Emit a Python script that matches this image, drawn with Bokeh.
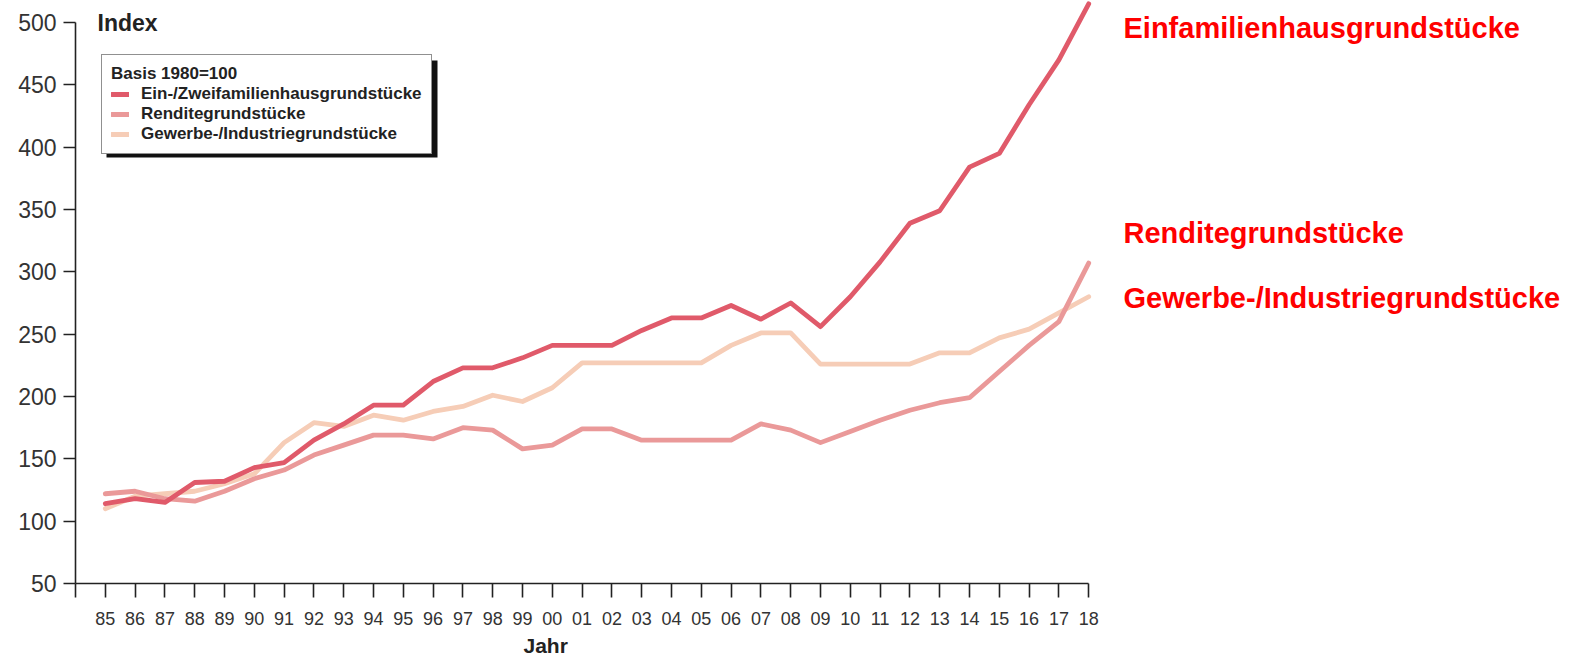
from bokeh.plotting import figure
from bokeh.models import (Range1d, FixedTicker, Legend, LegendItem, Label, BoxAnnotation, Title)
from bokeh.embed import file_html
from bokeh.resources import INLINE

# ---- data ----
years = list(range(1985, 2019))
tick_labels = ["85", "86", "87", "88", "89", "90", "91", "92", "93", "94", "95", "96", "97", "98",
               "99", "00", "01", "02", "03", "04", "05", "06", "07", "08", "09", "10", "11", "12",
               "13", "14", "15", "16", "17", "18"]
efh = [114, 118, 115, 131, 132, 143, 147, 165, 178, 193, 193, 212, 223, 223, 231, 241, 241, 241,
       253, 263, 263, 273, 262, 275, 256, 280, 308, 339, 349, 384, 395, 434, 470, 515]
rendite = [122, 124, 118, 116, 124, 134, 141, 153, 161, 169, 169, 166, 175, 173, 158, 161, 174, 174,
           165, 165, 165, 165, 178, 173, 163, 172, 181, 189, 195, 199, 220, 241, 260, 307]
gewerbe = [110, 120, 122, 124, 130, 138, 163, 179, 176, 185, 181, 188, 192, 201, 196, 207, 227, 227,
           227, 227, 227, 241, 251, 251, 226, 226, 226, 226, 235, 235, 247, 254, 267, 280]
y_ticks = [50, 100, 150, 200, 250, 300, 350, 400, 450, 500]

series_names = ["Ein-/Zweifamilienhausgrundstücke", "Renditegrundstücke", "Gewerbe-/Industriegrundstücke"]
colors = ["#e05a6a", "#ea9999", "#f6cdb7"]
side_labels = ["Einfamilienhausgrundstücke", "Renditegrundstücke", "Gewerbe-/Industriegrundstücke"]

FONT = "Liberation Sans"

# ---- geometry (pixel -> data helpers for decorations) ----
W, H = 1579, 662
LEFT, BOTTOM_B, TOP_B = 75, 79, 0
FRAME_W, FRAME_H = W - LEFT, H - BOTTOM_B - TOP_B
PX_PER_YEAR = 29.8
PX_PER_UNIT = 1.2467
x0 = 1984
y0 = 50

def fx(px):  # page px -> x data
    return x0 + (px - LEFT) / PX_PER_YEAR

def fy(py):  # page py -> y data
    return y0 + (TOP_B + FRAME_H - py) / PX_PER_UNIT

p = figure(width=W, height=H, output_backend="svg", toolbar_location=None,
           x_range=Range1d(x0, x0 + FRAME_W / PX_PER_YEAR),
           y_range=Range1d(y0, y0 + FRAME_H / PX_PER_UNIT),
           min_border_left=LEFT, min_border_right=0, min_border_top=TOP_B, min_border_bottom=BOTTOM_B)
p.outline_line_color = None
p.grid.visible = False
p.background_fill_color = "white"
p.border_fill_color = "white"

renderers = {}
for name, vals, col in reversed(list(zip(series_names, [efh, rendite, gewerbe], colors))):
    r = p.line(years, vals, line_color=col, line_width=4.8, line_join="round", line_cap="round")
    renderers[name] = r

# axes
xa = p.xaxis[0]
xa.bounds = (1984, 2018)
xa.ticker = FixedTicker(ticks=[1984] + years)
overrides = {1984: ""}
for yv, lab in zip(years, tick_labels):
    overrides[yv] = lab
xa.major_label_overrides = overrides
xa.minor_tick_line_color = None
xa.major_tick_out = 14
xa.major_tick_in = 0
xa.axis_line_color = "#222222"
xa.axis_line_width = 1.6
xa.major_tick_line_color = "#222222"
xa.major_tick_line_width = 1.6
xa.major_label_text_font = FONT
xa.major_label_text_font_size = "18px"
xa.major_label_text_color = "#333333"
xa.major_label_standoff = 14

ya = p.yaxis[0]
ya.bounds = (50, 500)
ya.ticker = FixedTicker(ticks=y_ticks)
ya.minor_tick_line_color = None
ya.major_tick_out = 12
ya.major_tick_in = 0
ya.axis_line_color = "#222222"
ya.axis_line_width = 1.6
ya.major_tick_line_color = "#222222"
ya.major_tick_line_width = 1.6
ya.major_label_text_font = FONT
ya.major_label_text_font_size = "23px"
ya.major_label_text_color = "#333333"
ya.major_label_standoff = 7

# x axis title "Jahr" (title panel below the axis)
p.add_layout(Title(text="Jahr", align="left", offset=545 - LEFT - 22,
                   text_font=FONT, text_font_style="bold", text_font_size="21px",
                   text_color="#222222", standoff=8), "below")

# legend shadow
shadow = BoxAnnotation(left=fx(106), right=fx(437), top=fy(60), bottom=fy(157),
                       fill_color="#111111", fill_alpha=1.0, line_color=None, level="annotation")
p.add_layout(shadow)

legend = Legend(items=[LegendItem(label=n, renderers=[renderers[n]]) for n in series_names],
                location=(101 - LEFT, TOP_B + FRAME_H - 154),
                title="Basis 1980=100",
                title_text_font=FONT, title_text_font_style="bold", title_text_font_size="17px",
                title_text_color="#222222", title_standoff=0,
                label_text_font=FONT, label_text_font_style="bold", label_text_font_size="17px",
                label_text_color="#222222",
                glyph_width=18, glyph_height=20, label_height=20, label_standoff=12,
                padding=9, spacing=0, margin=0,
                border_line_color="#222222", border_line_width=1.5,
                background_fill_color="white", background_fill_alpha=1.0)
p.add_layout(legend)

# texts
p.add_layout(Label(x=fx(97), y=fy(22), text="Index", text_font=FONT, text_font_style="bold",
                   text_font_size="23px", text_color="#222222", text_baseline="middle"))
for txt, py in zip(side_labels, [27, 232, 297]):
    p.add_layout(Label(x=fx(1123), y=fy(py), text=txt, text_font=FONT, text_font_style="bold",
                       text_font_size="29px", text_color="#ff0000", text_baseline="middle"))

open("out.html", "w").write(file_html(p, INLINE))
